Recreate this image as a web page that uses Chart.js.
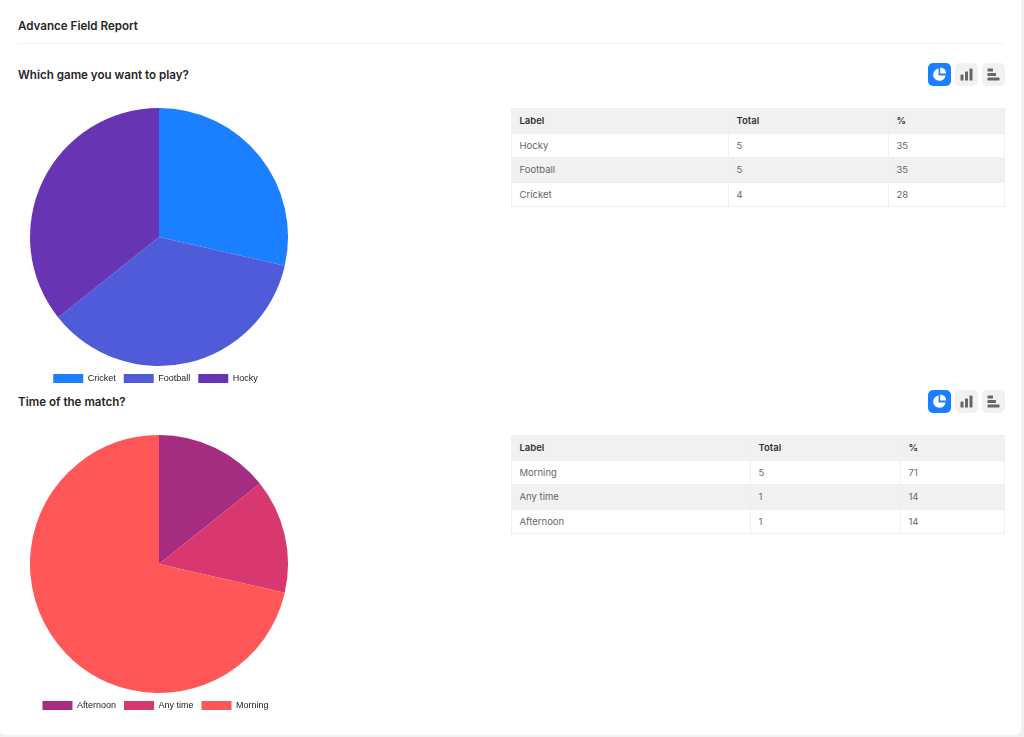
<!DOCTYPE html>
<html><head><meta charset="utf-8">
<script src="https://cdn.jsdelivr.net/npm/chart.js@4/dist/chart.umd.min.js"></script>
<style>
html,body{margin:0;padding:0;width:1024px;height:737px;overflow:hidden;background:#f1f1f1;font-family:Inter,"Noto Sans",sans-serif;}
#card{position:absolute;left:0;top:-6px;width:1021px;height:741px;background:#fff;border-radius:6px;}
.abs{position:absolute;}
.h1{left:18px;font-size:11.6px;font-weight:600;color:#262626;line-height:14px;white-space:nowrap;}
.rule{left:18px;top:43px;width:987px;height:1px;background:#f2f2f2;}
.h2{left:18px;font-size:11.6px;font-weight:600;color:#262626;line-height:14px;white-space:nowrap;}
.btn{width:23px;height:23px;border-radius:5px;background:#f1f1f1;}
.btn.on{background:#1a80ff;}
.btn svg{display:block;width:23px;height:23px;}
table{position:absolute;left:511px;border-collapse:collapse;table-layout:fixed;font-size:9.5px;line-height:11px;color:#666;}
th{font-weight:600;color:#333;text-align:left;background:#f1f1f1;}
th,td{height:24.6px;padding:0 0 0 7.5px;box-sizing:border-box;border:1px solid #efefef;}
tr.alt td{background:#f1f1f1;}
.chartbox{position:absolute;left:18px;width:282px;height:289px;}
</style></head><body>
<div id="card"></div>
<div class="abs h1" style="top:18.5px">Advance Field Report</div>
<div class="abs rule"></div>
<div class="abs h2" style="top:67.5px">Which game you want to play?</div>
<div class="abs h2" style="top:394.5px">Time of the match?</div>
<div id="btns"></div>
<div class="chartbox" style="top:104px"><canvas id="c1"></canvas></div>
<div class="chartbox" style="top:431px"><canvas id="c2"></canvas></div>
<div id="tables"></div>
<script>
const gameLabels = ["Cricket","Football","Hocky"];
const gameValues = [4,5,5];
const gameColors = ["#1a80ff","#4f5bd9","#6735b3"];
const gameRows = [["Hocky","5","35"],["Football","5","35"],["Cricket","4","28"]];
const timeLabels = ["Afternoon","Any time","Morning"];
const timeValues = [1,1,5];
const timeColors = ["#a62c7f","#d93770","#ff5757"];
const timeRows = [["Morning","5","71"],["Any time","1","14"],["Afternoon","1","14"]];
const tableHead = ["Label","Total","%"];

const legendNudge={id:"legendNudge",afterLayout(chart){chart.legend.left-=3.5;chart.legend.right-=3.5;}};
function pie(id,labels,values,colors){
  new Chart(document.getElementById(id),{
    type:"pie",
    data:{labels:labels,datasets:[{data:values,backgroundColor:colors,borderWidth:0}]},
    plugins:[legendNudge],
    options:{
      responsive:true,maintainAspectRatio:false,animation:false,
      layout:{padding:{top:4,bottom:0,left:0,right:0}},
      plugins:{
        tooltip:{enabled:false},
        legend:{position:"bottom",labels:{boxWidth:30,font:{size:9,family:"'Liberation Sans',Helvetica,Arial,sans-serif"},color:"#222",padding:8}}
      }
    }
  });
}
pie("c1",gameLabels,gameValues,gameColors);
pie("c2",timeLabels,timeValues,timeColors);

function table(top,widths,rows){
  let h='<table style="top:'+top+'px;width:'+widths.reduce((a,b)=>a+b,0)+'px"><colgroup>'+widths.map(w=>'<col style="width:'+w+'px">').join('')+'</colgroup><tr>'+tableHead.map(t=>'<th>'+t+'</th>').join('')+'</tr>';
  rows.forEach((r,i)=>{h+='<tr class="'+(i===1?'alt':'')+'">'+r.map(c=>'<td>'+c+'</td>').join('')+'</tr>';});
  return h+'</table>';
}
document.getElementById("tables").innerHTML=table(108,[217,160,116],gameRows)+table(435,[239,150,104],timeRows);

const iconPie='<svg viewBox="0 0 23 23"><path d="M10.6 5.5a6.2 6.2 0 1 0 6.9 6.9h-6.9z" fill="#fff"/><path d="M12.2 4.6v5.9h5.9a5.9 5.9 0 0 0-5.9-5.9z" fill="#fff"/></svg>';
const iconBar='<svg viewBox="0 0 23 23"><rect x="5.5" y="11.5" width="3" height="6" rx=".6" fill="#666"/><rect x="10" y="8.5" width="3" height="9" rx=".6" fill="#666"/><rect x="14.5" y="5.5" width="3" height="12" rx=".6" fill="#666"/></svg>';
const iconHbar='<svg viewBox="0 0 23 23"><rect x="5.5" y="5.5" width="5.5" height="3" rx=".6" fill="#666"/><rect x="5.5" y="10" width="8.5" height="3" rx=".6" fill="#666"/><rect x="5.5" y="14.5" width="12" height="3" rx=".6" fill="#666"/></svg>';
let b='';
[63,390].forEach(y=>{
  b+='<div class="abs btn on" style="left:928px;top:'+y+'px">'+iconPie+'</div>';
  b+='<div class="abs btn" style="left:955px;top:'+y+'px">'+iconBar+'</div>';
  b+='<div class="abs btn" style="left:982px;top:'+y+'px">'+iconHbar+'</div>';
});
document.getElementById("btns").innerHTML=b;
</script>
</body></html>
